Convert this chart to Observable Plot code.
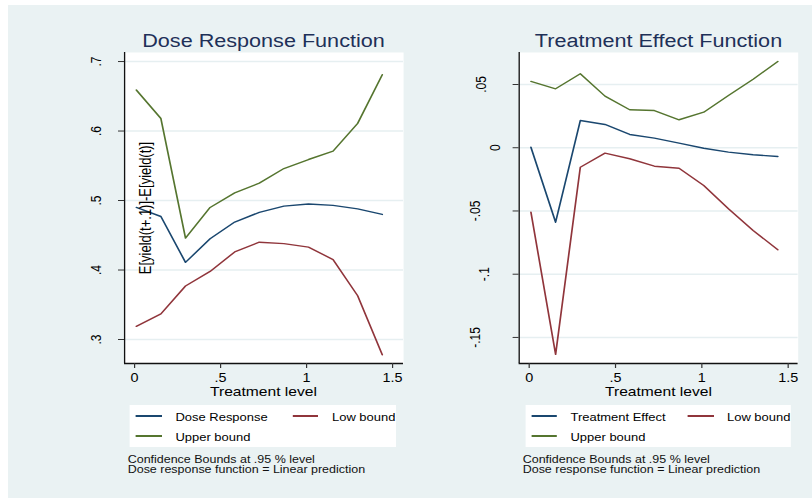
<!DOCTYPE html>
<html>
<head>
<meta charset="utf-8">
<script src="https://cdn.jsdelivr.net/npm/d3@7"></script>
<script src="https://cdn.jsdelivr.net/npm/@observablehq/plot@0.6"></script>
<style>
html, body { margin: 0; padding: 0; background: #fff; }
#page { position: relative; width: 812px; height: 500px; overflow: hidden; background: #fff; }
#bg { position: absolute; left: 8px; top: 5px; width: 804px; height: 493px; background: #eaf2f3; }
#wrap { position: absolute; left: 0; top: 0; width: 676.667px; height: 500px; transform: scaleX(1.2); transform-origin: 0 0;
  font-family: "Liberation Sans", Arial, sans-serif; color: #000; }
.title { position: absolute; text-align: center; font-size: 18px; line-height: 18px; color: #1e3058; white-space: nowrap; }
.xtitle { position: absolute; text-align: center; font-size: 13px; line-height: 12px; white-space: nowrap; }
.legend { position: absolute; background: #fff; }
.legend .ln { position: absolute; height: 1.5px; }
.legend .lt { position: absolute; font-size: 10.8px; line-height: 10.8px; white-space: nowrap; }
.notes { position: absolute; font-size: 10.4px; line-height: 10px; white-space: nowrap; color: #111; }
</style>
</head>
<body>
<div id="page"><div id="bg"></div><div id="wrap"></div></div>
<script>
// ---- data ----
const xLevels = [0.01, 0.153, 0.296, 0.439, 0.582, 0.725, 0.868, 1.011, 1.154, 1.297, 1.44];

const doseResponse = [0.490, 0.477, 0.411, 0.445, 0.469, 0.483, 0.492, 0.495, 0.493, 0.488, 0.480];
const doseLow      = [0.319, 0.337, 0.377, 0.398, 0.426, 0.440, 0.438, 0.433, 0.415, 0.363, 0.278];
const doseUpper    = [0.659, 0.618, 0.446, 0.490, 0.511, 0.525, 0.546, 0.559, 0.571, 0.611, 0.681];

const effect      = [0.0004, -0.0589, 0.0215, 0.0184, 0.0105, 0.0076, 0.0036, -0.0004, -0.0035, -0.0056, -0.0069];
const effectLow   = [-0.0509, -0.1634, -0.0154, -0.0043, -0.0087, -0.0146, -0.0162, -0.0298, -0.0483, -0.0654, -0.0807];
const effectUpper = [0.0524, 0.0466, 0.0585, 0.0408, 0.0300, 0.0294, 0.0221, 0.0281, 0.0413, 0.0542, 0.0682];

const xTicks = [0, 0.5, 1, 1.5];
const doseYTicks = [0.3, 0.4, 0.5, 0.6, 0.7];
const effectYTicks = [-0.15, -0.1, -0.05, 0, 0.05];

const titles = ["Dose Response Function", "Treatment Effect Function"];
const xTitle = "Treatment level";
const doseYTitle = "E[yield(t+.1)]-E[yield(t)]";
const doseLegend = ["Dose Response", "Low bound", "Upper bound"];
const effectLegend = ["Treatment Effect", "Low bound", "Upper bound"];
const notes = ["Confidence Bounds at .95 % level", "Dose response function = Linear prediction"];
const seriesColors = ["#1a476f", "#90353b", "#55752f"];

// ---- layout ----
const S = 1.2; // horizontal stretch of the reference picture
const wrap = document.getElementById("wrap");
const fmt = d => String(d).replace(/^(-?)0\./, "$1.");
// approximate Helvetica/Arial advance widths (em) for tick-label offsets
const adv = {"0": .556, "1": .556, "5": .556, "3": .556, "4": .556, "6": .556, "7": .556, ".": .278, "-": .333};
const wEm = s => [...s].reduce((a, c) => a + (adv[c] || .556), 0);

function panel(cfg) {
  const series = [cfg.est, cfg.low, cfg.up];
  const marks = [
    Plot.frame({fill: "white", stroke: "none"}),
    Plot.gridY(cfg.yTicks, {stroke: "#e6eff1", strokeOpacity: 1, strokeWidth: 1.6}),
    ...series.map((vals, s) => Plot.line(xLevels.map((x, i) => [x, vals[i]]),
      {stroke: seriesColors[s], strokeWidth: 1.4})),
    Plot.ruleX([cfg.xDomain[0]], {stroke: "#111", strokeWidth: 1.1}),
    Plot.ruleY([cfg.yDomain[0]], {stroke: "#111", strokeWidth: 1.3}),
    Plot.axisY(cfg.yTicks, {tickSize: 5, fill: "none", stroke: "#333", label: null}),
    ...cfg.yTicks.map(t => Plot.text([t], {
      y: d => d, text: fmt, frameAnchor: "left", rotate: -90,
      textAnchor: "middle", lineAnchor: "middle", fill: "#000", fontSize: 12,
      dx: -(14.5 + 17 * wEm(fmt(t))) / S
    })),
    Plot.axisX(xTicks, {tickSize: 5, tickPadding: 5, tickFormat: fmt, label: null,
      stroke: "#333", fill: "#000", fontSize: 12})
  ];
  if (cfg.yTitle) {
    marks.push(Plot.text([cfg.yTitle], {text: d => d, frameAnchor: "left", dx: 21 / S, rotate: -90,
      textAnchor: "middle", lineAnchor: "middle", fill: "#000", fontSize: 13}));
  }
  const svg = Plot.plot({
    width: cfg.width, height: 400,
    marginLeft: cfg.marginLeft, marginRight: cfg.marginRight, marginTop: 52, marginBottom: 37,
    style: {background: "transparent", fontFamily: "'Liberation Sans', Arial, sans-serif", fontSize: "12px", color: "#000", overflow: "visible"},
    x: {domain: cfg.xDomain},
    y: {domain: cfg.yDomain},
    marks
  });
  svg.style.position = "absolute";
  svg.style.left = cfg.left + "px";
  svg.style.top = "0px";
  svg.style.maxWidth = "none";
  wrap.appendChild(svg);

  // html decorations (reference px -> wrap px on x)
  const fl = cfg.frameL / S, fr = cfg.frameR / S;
  const t = document.createElement("div");
  t.className = "title"; t.textContent = cfg.title;
  t.style.left = fl + "px"; t.style.width = (fr - fl) + "px"; t.style.top = "31.8px";
  wrap.appendChild(t);

  const xt = document.createElement("div");
  xt.className = "xtitle"; xt.textContent = xTitle;
  xt.style.left = fl + "px"; xt.style.width = (fr - fl) + "px"; xt.style.top = "385.5px";
  wrap.appendChild(xt);

  const lg = document.createElement("div");
  lg.className = "legend";
  const boxL = cfg.frameL + 6, boxW = cfg.frameR - cfg.frameL - 13;
  lg.style.left = boxL / S + "px"; lg.style.width = boxW / S + "px";
  lg.style.top = "405px"; lg.style.height = "42px";
  const pos = [[6, 0], [162.5, 0], [6, 20]];
  cfg.legend.forEach((name, i) => {
    const [px, py] = pos[i];
    const ln = document.createElement("div");
    ln.className = "ln";
    ln.style.left = px / S + "px"; ln.style.width = 26 / S + "px";
    ln.style.top = (10 + py) + "px"; ln.style.background = seriesColors[i];
    lg.appendChild(ln);
    const tx = document.createElement("div");
    tx.className = "lt"; tx.textContent = name;
    tx.style.left = (px + 39.5) / S + "px"; tx.style.top = (6.6 + py) + "px";
    lg.appendChild(tx);
  });
  wrap.appendChild(lg);

  const nt = document.createElement("div");
  nt.className = "notes";
  nt.innerHTML = notes.join("<br>");
  nt.style.left = (cfg.frameL + 3.7) / S + "px"; nt.style.top = "455.4px";
  wrap.appendChild(nt);
}

panel({
  est: doseResponse, low: doseLow, up: doseUpper, yTicks: doseYTicks,
  xDomain: [-0.0581, 1.564], yDomain: [0.2655, 0.713], yTitle: doseYTitle,
  title: titles[0], legend: doseLegend,
  left: 0, width: 406 / S, marginLeft: 124 / S, marginRight: 3 / S,
  frameL: 124, frameR: 403
});
panel({
  est: effect, low: effectLow, up: effectUpper, yTicks: effectYTicks,
  xDomain: [-0.0579, 1.558], yDomain: [-0.1706, 0.0753], yTitle: null,
  title: titles[1], legend: effectLegend,
  left: 406 / S, width: 406 / S, marginLeft: 113 / S, marginRight: 14 / S,
  frameL: 519, frameR: 798
});
</script>
</body>
</html>
